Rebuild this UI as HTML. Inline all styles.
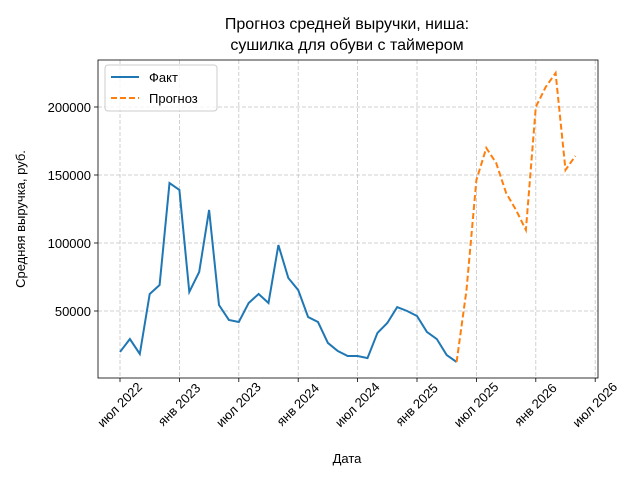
<!DOCTYPE html>
<html><head><meta charset="utf-8"><style>body{margin:0;background:#fff}svg{font-family:"Liberation Sans","DejaVu Sans",sans-serif}</style></head>
<body>
<svg width="640" height="480" xmlns="http://www.w3.org/2000/svg" id="chart">
<rect width="640" height="480" fill="#fff"/>
<text x="347" y="29" font-size="16" text-anchor="middle">Прогноз средней выручки, ниша:</text>
<text x="347" y="50" font-size="16" text-anchor="middle">сушилка для обуви с таймером</text>
<g id="grid"></g><g id="ticks"></g><g id="series"></g>
<rect x="98" y="60" width="500" height="318" fill="none" stroke="#000" stroke-width="0.8"/>
<text x="347" y="463" font-size="13" text-anchor="middle">Дата</text>
<text transform="translate(25,219) rotate(-90)" font-size="13" text-anchor="middle">Средняя выручка, руб.</text>
<g>
<rect x="105" y="65" width="112" height="46" rx="3" fill="#fff" fill-opacity="0.8" stroke="#ccc"/>
<line x1="111" y1="77" x2="139" y2="77" stroke="#1f77b4" stroke-width="2"/>
<text x="149" y="82" font-size="13">Факт</text>
<line x1="111" y1="98" x2="139" y2="98" stroke="#ff7f0e" stroke-width="2" stroke-dasharray="6,3"/>
<text x="149" y="103" font-size="13">Прогноз</text>
</g>
</svg>
<script>
const factValues=[19900,29400,18400,62500,69100,144100,139000,64000,78700,124300,54400,43400,41900,55900,62500,55900,98500,74300,65400,45600,41900,26500,20600,16900,16900,15400,33800,41200,52900,50000,46300,34600,29400,17600,12500];
const forecastValues=[12500,65400,146300,169900,158800,136800,124300,109600,200000,214700,225000,153700,164000];
const forecastStart=34;
const yTicks=[50000,100000,150000,200000];
const xTickLabels=["июл 2022","янв 2023","июл 2023","янв 2024","июл 2024","янв 2025","июл 2025","янв 2026","июл 2026"];
const NS="http://www.w3.org/2000/svg";
function xs(i){return 120+i*9.9;}
function ys(v){return 379-v/50000*68;}
const grid=document.getElementById('grid'),ticks=document.getElementById('ticks'),ser=document.getElementById('series');
function mk(tag,attrs,parent){const e=document.createElementNS(NS,tag);for(const k in attrs)e.setAttribute(k,attrs[k]);parent.appendChild(e);return e;}
yTicks.forEach(v=>{const y=ys(v);
const g=mk('line',{x1:98,x2:598,y1:y,y2:y,stroke:'#c4c4c4','stroke-dasharray':'4,2','stroke-width':0.8},grid);


mk('line',{x1:94,x2:98,y1:y,y2:y,stroke:'#000','stroke-width':0.8},ticks);
const t=mk('text',{x:91,y:y+5,'font-size':13,'text-anchor':'end'},ticks);t.textContent=v;

});
xTickLabels.forEach((l,k)=>{const x=xs(k*6);
const g=mk('line',{x1:x,x2:x,y1:60,y2:378,stroke:'#c4c4c4','stroke-dasharray':'4,2','stroke-width':0.8},grid);


mk('line',{x1:x,x2:x,y1:378,y2:382,stroke:'#000','stroke-width':0.8},ticks);
const cy=405;
const t=mk('text',{x:x,y:cy+4,'font-size':13,'text-anchor':'middle',transform:`rotate(-45 ${x} ${cy})`},ticks);t.textContent=l;

});
const p1=mk('polyline',{points:factValues.map((v,i)=>xs(i)+','+ys(v)).join(' '),fill:'none',stroke:'#1f77b4','stroke-width':2},ser);


const p2=mk('polyline',{points:forecastValues.map((v,i)=>xs(i+forecastStart)+','+ys(v)).join(' '),fill:'none',stroke:'#ff7f0e','stroke-width':2,'stroke-dasharray':'6,3'},ser);


</script>
</body></html>
